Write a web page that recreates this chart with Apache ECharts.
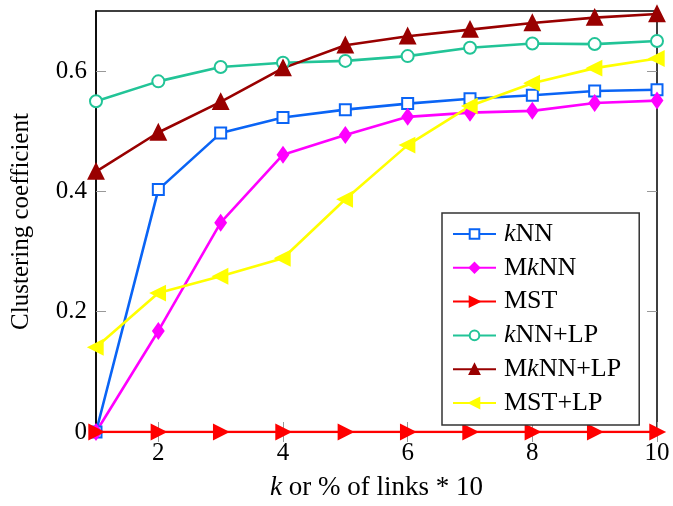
<!DOCTYPE html>
<html>
<head>
<meta charset="utf-8">
<script src="https://cdn.jsdelivr.net/npm/echarts@6/dist/echarts.min.js"></script>
<style>
html,body{margin:0;padding:0;background:#fff;}
#main{width:673px;height:506px;}
</style>
</head>
<body>
<div id="main"></div>
<script>
var xValues = [1, 2, 3, 4, 5, 6, 7, 8, 9, 10];
var xTicks = [2, 4, 6, 8, 10];
var yTicks = [0, 0.2, 0.4, 0.6];
var seriesNames = ['kNN', 'MkNN', 'MST', 'kNN+LP', 'MkNN+LP', 'MST+LP'];
var kNN      = [0, 0.403, 0.497, 0.523, 0.536, 0.546, 0.554, 0.560, 0.567, 0.569];
var MkNN     = [0, 0.168, 0.348, 0.461, 0.494, 0.524, 0.531, 0.534, 0.547, 0.551];
var MST      = [0, 0, 0, 0, 0, 0, 0, 0, 0, 0];
var kNN_LP   = [0.550, 0.583, 0.607, 0.614, 0.617, 0.625, 0.639, 0.646, 0.645, 0.650];
var MkNN_LP  = [0.433, 0.498, 0.549, 0.605, 0.643, 0.658, 0.669, 0.680, 0.689, 0.695];
var MST_LP   = [0.141, 0.231, 0.259, 0.289, 0.387, 0.477, 0.542, 0.580, 0.605, 0.621];

function pairs(arr) { return xValues.map(function (x, i) { return [x, arr[i]]; }); }

var FONT = '"Liberation Serif", "DejaVu Serif", serif';
var styles = [
  { data: kNN, color: '#0a64f5', symbol: 'emptyRect', size: 11, rotate: 0 },
  { data: MkNN, color: '#ff00ff', symbol: 'diamond', size: [10, 14], rotate: 0 },
  { data: MST, color: '#ff0000', symbol: 'triangle', size: 13, rotate: -90 },
  { data: kNN_LP, color: '#22c497', symbol: 'emptyCircle', size: 12, rotate: 0 },
  { data: MkNN_LP, color: '#990000', symbol: 'triangle', size: 14, rotate: 0 },
  { data: MST_LP, color: '#ffff00', symbol: 'triangle', size: 13, rotate: 90 }
];

var series = styles.map(function (s, i) {
  return {
    name: seriesNames[i],
    type: 'line',
    data: pairs(s.data),
    symbol: s.symbol,
    symbolSize: s.size,
    symbolRotate: s.rotate,
    showAllSymbol: true,
    lineStyle: { color: s.color, width: 2.6 },
    itemStyle: { color: s.color, borderColor: s.color, borderWidth: 2.4 },
    emphasis: { disabled: true },
    animation: false,
    xAxisIndex: 0,
    yAxisIndex: 0
  };
});

var richLegend = { i: { fontStyle: 'italic', fontFamily: FONT, fontSize: 26, color: '#000' } };
var richTitle = { i: { fontStyle: 'italic', fontFamily: FONT, fontSize: 27, color: '#000' } };

var option = {
  backgroundColor: '#fff',
  animation: false,
  grid: { left: 96, right: 16, top: 11, bottom: 70, show: true, borderColor: '#000', borderWidth: 1.5, backgroundColor: 'transparent' },
  legend: {
    left: 442, top: 213,
    orient: 'vertical',
    backgroundColor: '#fff',
    borderColor: '#333',
    borderWidth: 1.5,
    borderRadius: 0,
    padding: [8, 18, 9, 10],
    itemWidth: 43,
    itemHeight: 12,
    itemGap: 7.8,
    data: seriesNames,
    textStyle: { fontFamily: FONT, fontSize: 26, color: '#000', lineHeight: 25, padding: [0, 0, 0, 3], rich: richLegend },
    formatter: function (name) { return name.replace('k', '{i|k}'); }
  },
  xAxis: [{
    type: 'value', min: 1, max: 10, position: 'bottom',
    name: '{i|k} or % of links * 10',
    nameLocation: 'middle', nameGap: 42,
    nameTextStyle: { fontFamily: FONT, fontSize: 27, color: '#000', rich: richTitle },
    axisLine: { show: true, onZero: false, lineStyle: { color: '#000', width: 1.5 } },
    axisTick: { show: true, inside: true, length: 10, customValues: xTicks, lineStyle: { color: '#999', width: 1 } },
    axisLabel: { customValues: xTicks, fontFamily: FONT, fontSize: 25, color: '#000', margin: 9 },
    splitLine: { show: false }
  }, {
    type: 'value', min: 1, max: 10, position: 'top',
    axisLine: { show: false },
    axisTick: { show: true, inside: true, length: 10, customValues: xTicks, lineStyle: { color: '#999', width: 1 } },
    axisLabel: { show: false },
    splitLine: { show: false }
  }],
  yAxis: [{
    type: 'value', min: 0, max: 0.7, position: 'left',
    name: 'Clustering coefficient',
    nameLocation: 'middle', nameGap: 62,
    nameTextStyle: { fontFamily: FONT, fontSize: 25, color: '#000' },
    axisLine: { show: true, lineStyle: { color: '#000', width: 1.5 } },
    axisTick: { show: true, inside: true, length: 10, customValues: yTicks, lineStyle: { color: '#999', width: 1 } },
    axisLabel: { customValues: yTicks, fontFamily: FONT, fontSize: 25, color: '#000', margin: 9 },
    splitLine: { show: false }
  }, {
    type: 'value', min: 0, max: 0.7, position: 'right',
    axisLine: { show: false },
    axisTick: { show: true, inside: true, length: 10, customValues: yTicks, lineStyle: { color: '#999', width: 1 } },
    axisLabel: { show: false },
    splitLine: { show: false }
  }],
  series: series
};

var chart = echarts.init(document.getElementById('main'), null, { renderer: 'canvas' });
chart.setOption(option);
</script>
</body>
</html>
